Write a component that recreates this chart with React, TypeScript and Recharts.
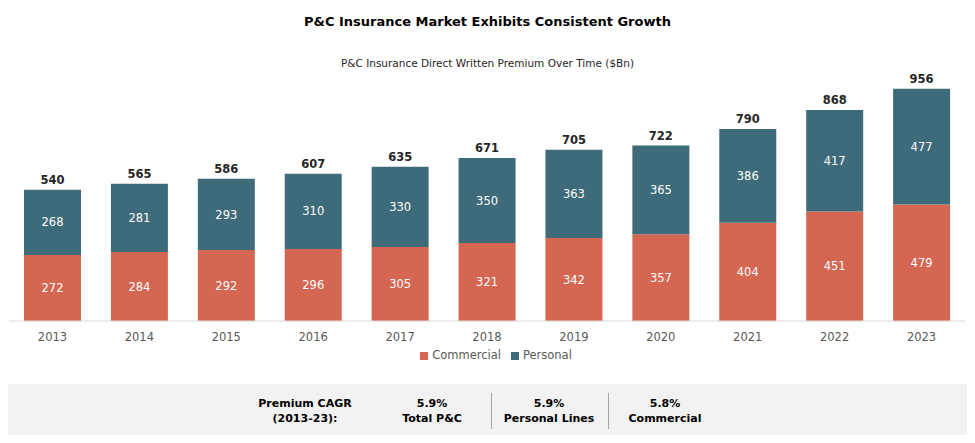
import { Bar, BarChart, LabelList, Legend, XAxis, YAxis } from 'recharts';

const years = ['2013', '2014', '2015', '2016', '2017', '2018', '2019', '2020', '2021', '2022', '2023'];
const commercial = [272, 284, 292, 296, 305, 321, 342, 357, 404, 451, 479];
const personal = [268, 281, 293, 310, 330, 350, 363, 365, 386, 417, 477];
const totals = [540, 565, 586, 607, 635, 671, 705, 722, 790, 868, 956];

const C = {
  commercial: '#D56752',
  personal: '#3D6B79',
  axis: '#D9D9D9',
  tick: '#595959',
  dark: '#262626',
  band: '#F2F2F2',
};

const FONT = '"DejaVu Sans", sans-serif';

const data = years.map((y, i) => ({
  year: y,
  Commercial: commercial[i],
  Personal: personal[i],
  total: totals[i],
}));

const cagr = [
  { value: '5.9%', label: 'Total P&C', x: 432 },
  { value: '5.9%', label: 'Personal Lines', x: 549 },
  { value: '5.8%', label: 'Commercial', x: 665 },
];

function TotalLabel(props: any) {
  const { x, y, width, index } = props;
  return (
    <text x={x + width / 2} y={y - 6} textAnchor="middle" fontSize={11.5} fontWeight={700} fill={C.dark} fontFamily={FONT}>
      {totals[index]}
    </text>
  );
}

export default function App() {
  return (
    <div style={{ position: 'relative', width: 975, height: 443, margin: -8, background: '#fff', fontFamily: FONT, overflow: 'hidden' }}>
      <div style={{ position: 'absolute', top: 14, left: 0, width: 975, textAlign: 'center', fontSize: 13, fontWeight: 700, color: '#000' }}>
        P&amp;C Insurance Market Exhibits Consistent Growth
      </div>
      <div style={{ position: 'absolute', top: 57, left: 0, width: 975, textAlign: 'center', fontSize: 10.5, color: '#262626' }}>
        P&amp;C Insurance Direct Written Premium Over Time ($Bn)
      </div>

      <div style={{ position: 'absolute', top: 0, left: 0 }}>
        <BarChart width={975} height={378} data={data} margin={{ top: 78, right: 10, left: 9, bottom: 0 }} barSize={57}>
          <XAxis
            dataKey="year"
            tickLine={false}
            axisLine={{ stroke: C.axis }}
            tick={{ fontSize: 11.5, fill: C.tick, fontFamily: FONT }}
            height={24}
            tickMargin={6}
          />
          <YAxis hide domain={[0, 1000]} />
          <Legend
            verticalAlign="bottom"
            height={33}
            iconType="square"
            iconSize={8}
            wrapperStyle={{ fontSize: 11.5, color: C.tick, fontFamily: FONT, top: 348, paddingLeft: 14 }}
            formatter={(v: string) => <span style={{ color: C.tick }}>{v}</span>}
          />
          <Bar dataKey="Commercial" stackId="a" fill={C.commercial} isAnimationActive={false}>
            <LabelList dataKey="Commercial" position="center" fill="#fff" fontSize={11.5} fontFamily={FONT} />
          </Bar>
          <Bar dataKey="Personal" stackId="a" fill={C.personal} isAnimationActive={false}>
            <LabelList dataKey="Personal" position="center" fill="#fff" fontSize={11.5} fontFamily={FONT} />
            <LabelList dataKey="total" content={TotalLabel} />
          </Bar>
        </BarChart>
      </div>

      <div style={{ position: 'absolute', top: 384, left: 0, width: 975, height: 59, background: C.band }} />
      <div style={{ position: 'absolute', top: 396, left: 245, width: 120, textAlign: 'center', fontSize: 11, fontWeight: 700, lineHeight: '15px', color: '#000' }}>
        Premium CAGR<br />(2013-23):
      </div>
      {cagr.map((c) => (
        <div key={c.label} style={{ position: 'absolute', top: 396, left: c.x - 55, width: 110, textAlign: 'center', fontSize: 11, fontWeight: 700, lineHeight: '15px', color: '#000' }}>
          {c.value}<br />{c.label}
        </div>
      ))}
      <div style={{ position: 'absolute', top: 393, left: 491, width: 1, height: 36, background: '#A6A6A6' }} />
      <div style={{ position: 'absolute', top: 393, left: 608, width: 1, height: 36, background: '#A6A6A6' }} />
    </div>
  );
}
